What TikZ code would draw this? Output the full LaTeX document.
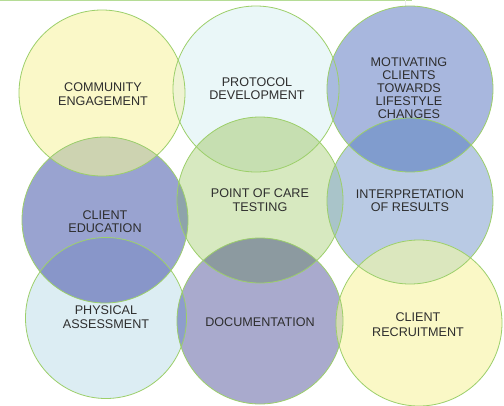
\documentclass[tikz,border=0pt]{standalone}
\usepackage{fontspec}
\setmainfont{Liberation Sans}
\begin{document}
\begin{tikzpicture}[x=1pt,y=-1pt,
  ring/.style={draw=ringgreen,line width=0.8pt},
  lbl/.style={align=center,text=txtgray,font=\fontsize{12.6}{13.5}\selectfont,inner sep=0pt}]
\definecolor{ringgreen}{HTML}{9CCF6A}
\definecolor{txtgray}{HTML}{2E2E2E}
\definecolor{topline}{HTML}{B5DC96}
\definecolor{fA}{HTML}{FAF8C8}
\definecolor{fB}{HTML}{EAF7F8}
\definecolor{fC}{HTML}{A8B7DE}
\definecolor{fD}{HTML}{99A3D0}
\definecolor{fE}{HTML}{D7E9C0}
\definecolor{fF}{HTML}{B9CAE4}
\definecolor{fG}{HTML}{DCEDF3}
\definecolor{fH}{HTML}{A9AACD}
\definecolor{fI}{HTML}{FAF8C6}
\definecolor{oAB}{HTML}{EFF3D2}
\definecolor{oBC}{HTML}{A9BBDE}
\definecolor{oDE}{HTML}{8EA3AB}
\definecolor{oEF}{HTML}{A9C4C9}
\definecolor{oGH}{HTML}{8E9DCC}
\definecolor{oHI}{HTML}{D5D8B6}
\definecolor{oAD}{HTML}{CDD3B1}
\definecolor{oBE}{HTML}{C6DFB1}
\definecolor{oCF}{HTML}{809CCE}
\definecolor{oDG}{HTML}{8896C9}
\definecolor{oEH}{HTML}{8C9AA0}
\definecolor{oFI}{HTML}{DBE7BE}
\useasboundingbox (0,0) rectangle (504,405);
\fill[white] (0,0) rectangle (504,405);
% centres
\coordinate (A) at (102,93);
\coordinate (B) at (256,89);
\coordinate (C) at (410,89);
\coordinate (D) at (105,220);
\coordinate (E) at (260,200);
\coordinate (F) at (410,201);
\coordinate (G) at (106,318);
\coordinate (H) at (260,321);
\coordinate (I) at (419,323);
\def\rr{83}
\def\rg{80.5}
% top line
\draw[topline,line width=1.5pt] (0,0.5) -- (412,0.5);
\draw[black!7,line width=0.5pt] (383,10) -- (405,10) -- (405,0);
% base fills
\fill[fA] (A) circle (\rr);
\fill[fB] (B) circle (\rr);
\fill[fC] (C) circle (\rr);
\fill[fD] (D) circle (\rr);
\fill[fE] (E) circle (\rr);
\fill[fF] (F) circle (\rr);
\fill[fG] (G) circle (\rg);
\fill[fH] (H) circle (\rr);
\fill[fI] (I) circle (\rr);
% overlaps
\begin{scope}\clip (A) circle (\rr); \fill[oAB] (B) circle (\rr); \end{scope}
\begin{scope}\clip (B) circle (\rr); \fill[oBC] (C) circle (\rr); \end{scope}
\begin{scope}\clip (D) circle (\rr); \fill[oDE] (E) circle (\rr); \end{scope}
\begin{scope}\clip (E) circle (\rr); \fill[oEF] (F) circle (\rr); \end{scope}
\begin{scope}\clip (G) circle (\rg); \fill[oGH] (H) circle (\rr); \end{scope}
\begin{scope}\clip (H) circle (\rr); \fill[oHI] (I) circle (\rr); \end{scope}
\begin{scope}\clip (A) circle (\rr); \fill[oAD] (D) circle (\rr); \end{scope}
\begin{scope}\clip (B) circle (\rr); \fill[oBE] (E) circle (\rr); \end{scope}
\begin{scope}\clip (C) circle (\rr); \fill[oCF] (F) circle (\rr); \end{scope}
\begin{scope}\clip (D) circle (\rr); \fill[oDG] (G) circle (\rg); \end{scope}
\begin{scope}\clip (E) circle (\rr); \fill[oEH] (H) circle (\rr); \end{scope}
\begin{scope}\clip (F) circle (\rr); \fill[oFI] (I) circle (\rr); \end{scope}
% outlines
\foreach \p in {A,B,C,D,E,F,H,I} \draw[ring] (\p) circle (\rr);
\draw[ring] (G) circle (\rg);
% labels
\node[lbl,font=\fontsize{12.6}{14.5}\selectfont] (tA) at (103,94) {COMMUNITY\\ENGAGEMENT};
\node[lbl] (tB) at (257,88.5) {PROTOCOL\\DEVELOPMENT};
\node[lbl,font=\fontsize{12.6}{13}\selectfont] (tC) at (409,88) {MOTIVATING\\CLIENTS\\TOWARDS\\LIFESTYLE\\CHANGES};
\node[lbl] (tD) at (105,221.5) {CLIENT\\EDUCATION};
\node[lbl] (tE) at (260,200) {POINT OF CARE\\TESTING};
\node[lbl] (tF) at (410,200.5) {INTERPRETATION\\OF RESULTS};
\node[lbl] (tG) at (106,317) {PHYSICAL\\ASSESSMENT};
\node[lbl] (tH) at (260,322) {DOCUMENTATION};
\node[lbl,font=\fontsize{12.6}{14.5}\selectfont] (tI) at (418,324.5) {CLIENT\\RECRUITMENT};
\end{tikzpicture}
\end{document}
